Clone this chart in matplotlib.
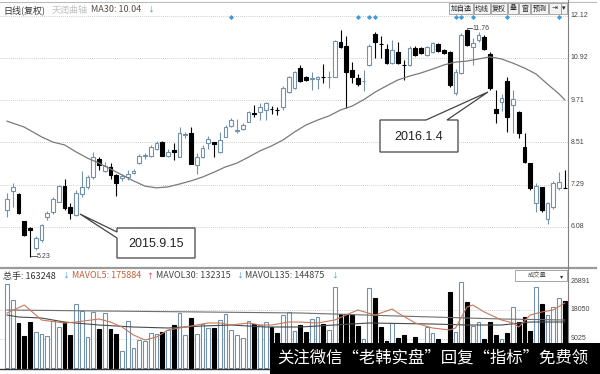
import matplotlib.pyplot as plt
from matplotlib.patches import Rectangle, Polygon
from matplotlib.lines import Line2D

plt.rcParams['font.family'] = ['Noto Sans CJK SC', 'DejaVu Sans']

# daily candles (price, 复权)
opens = [6.57, 7.11, 7.02, 6.25, 6.05, 5.48, 5.71, 6.37, 6.51, 6.79,
         7.25, 6.65, 6.42, 7.02, 7.22, 7.51, 8.03, 7.68, 7.80, 7.57,
         7.48, 7.51, 7.63, 7.91, 8.10, 8.11, 8.31, 8.51, 8.11, 8.27,
         8.08, 8.72, 8.77, 7.85, 8.08, 8.48, 8.51, 8.22, 8.66, 8.97,
         8.83, 8.88, 9.09, 9.34, 9.37, 9.43, 9.47, 9.44, 9.51, 9.94,
         10.06, 10.63, 10.37, 10.33, 10.32, 10.38, 10.36, 10.37, 11.38, 11.26,
         10.57, 10.34, 10.25, 10.72, 11.60, 11.33, 11.18, 10.78, 11.09, 10.73,
         10.72, 11.20, 11.20, 11.00, 11.09, 11.32, 11.15, 11.09, 9.91, 10.49,
         11.72, 11.23, 11.43, 11.52, 11.03, 9.46, 9.66, 10.26, 9.57, 9.37,
         8.37, 7.91, 6.77, 7.22, 6.31, 6.65, 7.20, 7.21]
highs = [7.05, 7.34, 7.05, 6.25, 6.08, 5.82, 6.17, 6.54, 6.94, 7.28,
         7.45, 6.77, 7.14, 7.68, 7.57, 8.23, 8.08, 7.94, 7.91, 7.60,
         7.60, 7.71, 7.74, 8.17, 8.20, 8.43, 8.54, 8.54, 8.31, 8.48,
         8.94, 8.80, 8.94, 8.20, 8.43, 8.68, 8.51, 8.80, 9.00, 9.20,
         9.17, 9.06, 9.40, 9.57, 9.63, 9.66, 9.54, 9.51, 10.12, 10.40,
         10.55, 10.72, 10.40, 10.52, 10.40, 10.75, 10.55, 11.43, 11.72, 11.55,
         10.80, 10.46, 10.57, 11.32, 11.66, 11.55, 11.32, 11.43, 11.38, 10.86,
         11.26, 11.26, 11.23, 11.26, 11.38, 11.35, 11.18, 11.12, 10.60, 11.63,
         11.76, 11.49, 11.66, 11.58, 11.09, 10.00, 9.89, 10.37, 10.00, 9.40,
         8.77, 7.91, 7.34, 7.22, 6.79, 7.40, 7.65, 7.71]
lows = [6.37, 6.65, 6.45, 5.82, 5.23, 5.42, 5.66, 6.28, 6.45, 6.79,
        6.57, 6.31, 6.39, 6.94, 7.17, 7.45, 7.71, 7.65, 7.45, 6.97,
        7.40, 7.43, 7.60, 7.88, 8.03, 8.08, 8.28, 8.11, 8.08, 8.00,
        8.08, 8.63, 7.88, 7.60, 8.05, 8.31, 8.08, 8.20, 8.66, 8.94,
        8.77, 8.86, 9.09, 9.23, 9.14, 9.14, 9.31, 9.28, 9.43, 9.91,
        10.03, 10.23, 10.26, 10.00, 10.03, 10.20, 10.06, 10.37, 11.20, 9.49,
        10.20, 10.12, 9.97, 10.69, 10.92, 10.92, 10.75, 10.75, 10.75, 10.29,
        10.69, 10.97, 11.03, 10.97, 11.06, 11.09, 11.03, 10.09, 9.86, 10.46,
        11.26, 10.72, 11.38, 11.15, 10.00, 9.06, 9.40, 8.80, 8.77, 8.63,
        7.91, 7.14, 6.51, 6.51, 6.17, 6.60, 7.14, 7.19]
closes = [6.88, 7.22, 6.48, 5.85, 5.98, 5.76, 6.14, 6.48, 6.88, 7.25,
          6.62, 6.48, 7.05, 7.22, 7.51, 8.08, 7.85, 7.83, 7.57, 7.34,
          7.54, 7.60, 7.68, 8.11, 8.13, 8.37, 8.48, 8.11, 8.22, 8.24,
          8.77, 8.75, 7.88, 8.08, 8.34, 8.60, 8.45, 8.57, 8.94, 9.14,
          8.86, 9.00, 9.37, 9.31, 9.51, 9.63, 9.45, 9.42, 10.06, 10.37,
          10.52, 10.26, 10.30, 10.35, 10.37, 10.36, 10.38, 11.40, 11.23, 10.52,
          10.37, 10.17, 10.27, 11.26, 11.38, 11.31, 10.78, 11.15, 10.78, 10.71,
          11.20, 11.00, 11.06, 11.23, 11.35, 11.12, 11.06, 10.14, 10.52, 11.58,
          11.29, 11.35, 11.58, 11.18, 10.06, 9.34, 9.77, 9.23, 9.75, 8.77,
          7.94, 7.20, 7.25, 6.57, 6.77, 7.34, 7.37, 7.19]
volumes = [26100, 21150, 14000, 9950, 14300, 11200, 10570, 9950, 14620, 12750,
           14300, 10260, 19900, 17730, 9640, 17420, 12130, 17100, 12130, 10570,
           5290, 14620, 6220, 8710, 8400, 10890, 10570, 11200, 11820, 13370,
           17100, 10260, 15550, 10570, 13680, 12440, 12440, 14930, 16790, 11820,
           10260, 9330, 14620, 13680, 13370, 14300, 12750, 10890, 16480, 17420,
           11510, 13370, 11200, 15240, 15860, 13680, 11820, 25190, 16790, 16790,
           16480, 13060, 9020, 24880, 21770, 12750, 8400, 14000, 9330, 10260,
           7780, 9640, 6530, 12750, 10890, 9020, 6840, 23640, 11200, 26750,
           20530, 13060, 14300, 9020, 14300, 10260, 9020, 10890, 18970, 14300,
           15860, 11510, 25190, 19900, 16480, 18970, 21770, 20840]

# MA30 read at every other candle
ma30_idx = [0, 3, 6] + list(range(8, 97, 2)) + [97]
ma30 = [9.11, 8.94, 8.66, 8.51, 8.43, 8.23, 8.05, 7.91, 7.74, 7.57,
        7.40, 7.25, 7.20, 7.23, 7.31, 7.40, 7.51, 7.65, 7.80, 7.91,
        8.08, 8.26, 8.40, 8.57, 8.80, 9.00, 9.14, 9.26, 9.43, 9.54,
        9.72, 9.94, 10.12, 10.29, 10.40, 10.49, 10.60, 10.72, 10.80, 10.83,
        10.89, 10.95, 10.89, 10.77, 10.63, 10.46, 10.17, 9.89, 9.72]

mavol5_idx = [0, 3, 4, 6, 10, 12, 16, 18, 20, 22, 24, 26, 28, 31, 35, 37, 39, 42, 44, 46, 49,
              51, 54, 57, 61, 64, 67, 68, 71, 74, 77, 78, 80, 81, 83, 86, 88, 89, 91, 93, 95, 97]
mavol5 = [17100, 19590, 18040, 14930, 14000, 14300, 15240, 14300, 12750, 10260,
          8710, 9640, 11820, 12750, 14000, 14000, 13370, 14000, 13370, 13370,
          14300, 14300, 14000, 14930, 18040, 16480, 18350, 17100, 14000, 12440,
          11820, 12440, 18970, 19590, 17420, 14930, 14000, 12750, 16480, 17420,
          18040, 20220]
mavol30_idx = [0, 2, 6, 10, 16, 22, 28, 34, 39, 45, 51, 63, 74, 80, 86, 91, 97]
mavol30 = [16480, 15860, 15550, 14300, 13370, 12750, 12440, 13060, 13370, 12750,
           12750, 14000, 13680, 13370, 13370, 14300, 14300]
mavol135_idx = [0, 16, 34, 51, 68, 86, 97]
mavol135 = [18040, 17730, 17420, 17100, 16170, 15240, 14930]

event_idx = [39, 61, 63, 64, 78, 79, 81, 87, 96]
price_ticks = [12.12, 10.92, 9.71, 8.51, 7.29, 6.08]
vol_ticks = [26891, 18050, 9025]

UP = '#7392aa'
W, H = 600, 374


def fp(x, y):
    return x / W, 1 - y / H


fig = plt.figure(figsize=(6, 3.74), dpi=100)
n = len(opens)

ax = fig.add_axes([0, 1 - 267 / H, 568 / W, 264 / H])
vax = fig.add_axes([0, 0, 568 / W, 106 / H])
for a in (ax, vax):
    a.set_xlim(-1.22, n - 0.435)
    a.axis('off')
ax.set_ylim(4.935, 12.492)
vax.set_ylim(-1866, 31100)

up = [c >= o for o, c in zip(opens, closes)]

# grid
for v in price_ticks:
    ax.axhline(v, color='#bdbdbd', lw=0.6, ls=(0, (1, 1.5)), zorder=1)
    ax.text(1.004, v, f'{v:.2f}', transform=ax.get_yaxis_transform(), fontsize=5,
            family='Liberation Sans', color='#444', va='center', clip_on=False)
for v in vol_ticks:
    if v < 20000:
        vax.axhline(v, color='#bdbdbd', lw=0.6, ls=(0, (1, 1.5)), zorder=1)
    vax.text(1.004, v, str(v), transform=vax.get_yaxis_transform(), fontsize=5,
             family='Liberation Sans', color='#444', va='center', clip_on=False)

# candles
for i in range(n):
    col = UP if up[i] else 'black'
    ax.vlines(i, lows[i], highs[i], color=col, lw=0.8, zorder=2)
    lo, hi = min(opens[i], closes[i]), max(opens[i], closes[i])
    ax.add_patch(Rectangle((i - 0.32, lo), 0.64, max(hi - lo, 0.01),
                           facecolor='white' if up[i] else 'black',
                           edgecolor=col, lw=0.8, zorder=3))
ax.plot(ma30_idx, ma30, color='#7a7a7a', lw=0.9, zorder=4)
ax.plot(event_idx, [12.09] * len(event_idx), 'D', ms=2.6, color='#3e9cd6',
        mec='none', zorder=5, clip_on=False)

# volume
for i in range(n):
    vax.bar(i, volumes[i], width=0.66, bottom=0,
            facecolor='white' if up[i] else 'black',
            edgecolor=UP if up[i] else 'black', lw=0.8, zorder=2)
vax.plot(mavol135_idx, mavol135, color='#6e6e6e', lw=0.8, zorder=3)
vax.plot(mavol30_idx, mavol30, color='#4a4a4a', lw=0.8, zorder=3)
vax.plot(mavol5_idx, mavol5, color='#c8795a', lw=0.8, zorder=4)

# frame lines
def fline(xs, ys, **kw):
    fig.add_artist(Line2D([x / W for x in xs], [1 - y / H for y in ys],
                          transform=fig.transFigure, **kw))

fline([0, 596], [1.5, 1.5], color='#bbbbbb', lw=0.8)
fline([0, 596], [267.5, 267.5], color='#9a9a9a', lw=1.6)
fline([568, 568], [0, 374], color='#808080', lw=0.8)
fline([0, 270], [368.5, 368.5], color='#333333', lw=1.0)

# header texts
fig.text(*fp(3, 10), '日线(复权)', fontsize=6.5, color='#333', va='center')
fig.text(*fp(52, 10), '天润曲轴', fontsize=6.5, color='#c0c0c0', va='center')
fig.text(*fp(91, 10), 'MA30: 10.04', fontsize=6.5, color='#5a4a44', va='center')
fig.text(*fp(147, 10), '↓', fontsize=5, color='#3a9ad9', va='center')

fig.text(*fp(3, 276), '总手: 163248', fontsize=6.5, color='#333', va='center')
fig.text(*fp(62, 276), '↓', fontsize=5, color='#3a9ad9', va='center')
fig.text(*fp(72, 276), 'MAVOL5: 175884', fontsize=6.5, color='#c0603a', va='center')
fig.text(*fp(146, 276), '↑', fontsize=5, color='#d03030', va='center')
fig.text(*fp(156, 276), 'MAVOL30: 132315', fontsize=6.5, color='#444', va='center')
fig.text(*fp(236, 276), '↓', fontsize=5, color='#3a9ad9', va='center')
fig.text(*fp(245, 276), 'MAVOL135: 144875', fontsize=6.5, color='#444', va='center')
fig.text(*fp(331, 276), '↓', fontsize=5, color='#3a9ad9', va='center')

# 成交量 selector
fig.add_artist(Rectangle(fp(515, 281), 52 / W, 11 / H, transform=fig.transFigure,
                         facecolor='white', edgecolor='#999', lw=0.6))
fig.text(*fp(537, 276), '成交量', fontsize=4.5, color='#555', va='center', ha='center')
fig.text(*fp(562, 276), '▾', fontsize=4.5, color='#333', va='center', ha='center')

# toolbar
for label, x0, x1 in [('加自选', 449, 473), ('均线', 474, 490), ('复权', 491, 507),
                      ('叠', 508, 518), ('窗', 519, 530), ('预测', 531, 548),
                      ('⇥', 549, 561), ('▾', 561, 567)]:
    fig.add_artist(Rectangle(fp(x0, 14), (x1 - x0) / W, 11 / H, transform=fig.transFigure,
                             facecolor='#f3f3f3', edgecolor='#9a9a9a', lw=0.6))
    fig.text(*fp((x0 + x1) / 2, 8.5), label, fontsize=5, color='#222',
             va='center', ha='center')

# extreme labels
fline([467, 472], [28, 28], color='#444', lw=0.6)
fig.text(*fp(472, 28), '11.76', fontsize=5, family='Liberation Sans', color='#444', va='center')
fline([31, 37], [256, 256], color='#444', lw=0.6)
fig.text(*fp(37, 256), '5.23', fontsize=5, family='Liberation Sans', color='#444', va='center')

# callouts
def callout(pts, text, cx, cy):
    fig.add_artist(Polygon([fp(x, y) for x, y in pts], closed=True, transform=fig.transFigure,
                           facecolor='white', edgecolor='#444', lw=0.9, zorder=4))
    fig.text(*fp(cx, cy), text, fontsize=9, family='Liberation Sans', color='#222',
             ha='center', va='center', zorder=5)

callout([(117, 228), (195, 228), (195, 258), (117, 258), (117, 238), (80, 214), (117, 232)],
        '2015.9.15', 156, 244)
callout([(380, 120), (426, 120), (488, 92), (447, 120), (458, 120), (458, 152), (380, 152)],
        '2016.1.4', 419, 137)

# watermark banner
fig.add_artist(Rectangle(fp(270, 374), 330 / W, 31 / H, transform=fig.transFigure,
                         facecolor='black', edgecolor='none', zorder=6))
fig.text(*fp(277, 358), '关注微信“老韩实盘”回复“指标”免费领', fontsize=11.8,
         color='white', va='center', zorder=7)

fig.savefig('out.png', dpi=100, facecolor='white')
